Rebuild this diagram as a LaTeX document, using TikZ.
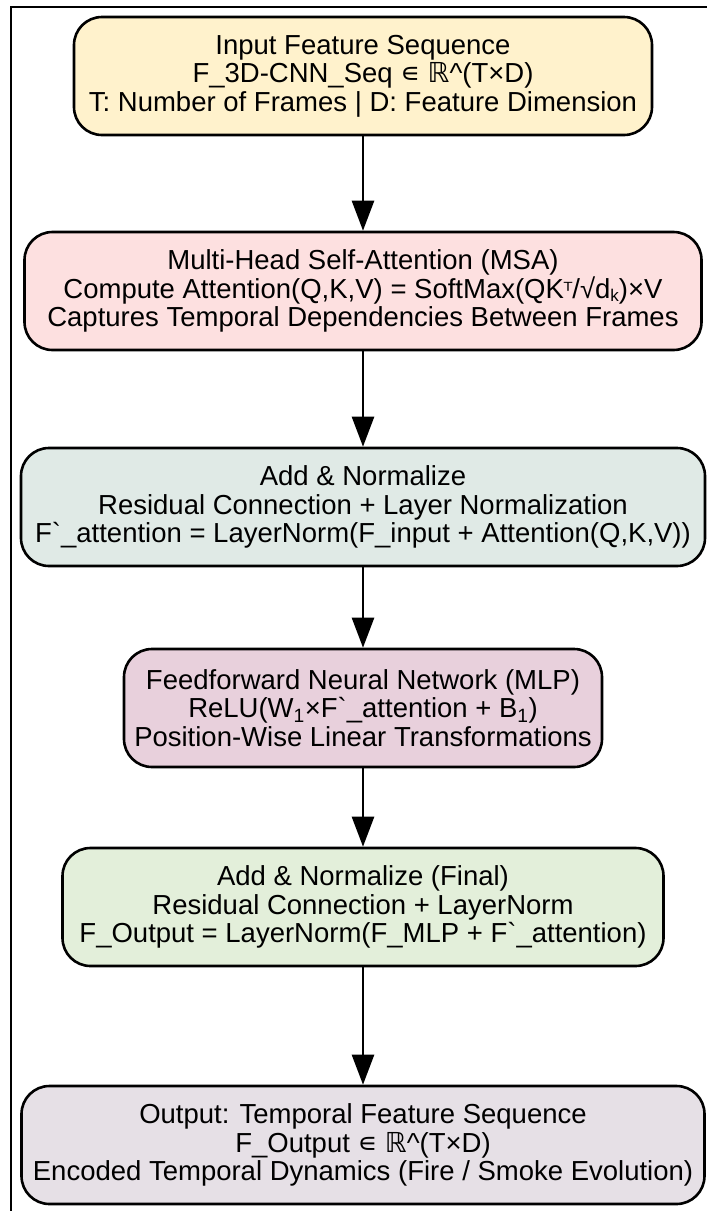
\documentclass[tikz,border=0pt]{standalone}
\usepackage{fontspec}
\setmainfont{Liberation Sans}
\newfontfamily\sym{DejaVu Sans}
\newfontfamily\lib{Liberation Sans}
\usetikzlibrary{arrows.meta}
\definecolor{c1}{HTML}{FFF2CC}
\definecolor{c2}{HTML}{FDE0E0}
\definecolor{c3}{HTML}{E0EAE6}
\definecolor{c4}{HTML}{E8D0DC}
\definecolor{c5}{HTML}{E3EFDA}
\definecolor{c6}{HTML}{E6E0E6}
\newcommand{\grv}{{\lib`}}
\newcommand{\elem}{{\sym ∊}}
\newcommand{\supT}{{\sym\fontsize{22}{22}\selectfont ᵀ}}
\newcommand{\subk}{\raisebox{-3pt}{\fontsize{17}{17}\selectfont$\mathrm{k}$}}
\tikzset{
  box/.style={draw=black, line width=2.6pt, rounded corners=28pt, align=center,
    minimum height=118pt, inner sep=0pt,
    font=\fontsize{27.5}{28.5}\selectfont},
  conn/.style={line width=2.6pt, -{Triangle[width=22pt,length=30pt]}}
}
\begin{document}
\begin{tikzpicture}[x=1pt,y=-1pt]
\useasboundingbox (0,0) rectangle (707,1211);
\begin{scope}
\clip (0,0) rectangle (707,1211);
\draw[line width=2pt] (11,7) rectangle (740,1240);
\end{scope}
\node[box, fill=c1, minimum width=578pt] (b1) at (363,76)
 {Input Feature Sequence\\F\_3D-CNN\_Seq \elem{} {\sym ℝ}\^{}(T×D)\\T: Number of Frames | D: Feature Dimension};
\node[box, fill=c2, minimum width=677pt] (b2) at (363,291)
 {Multi-Head Self-Attention (MSA)\\Compute Attention(Q,K,V) = SoftMax(QK\supT/√d\subk)×V\\Captures Temporal Dependencies Between Frames};
\node[box, fill=c3, minimum width=684pt] (b3) at (363,507)
 {Add \& Normalize\\Residual Connection + Layer Normalization\\F\grv\_attention = LayerNorm(F\_input + Attention(Q,K,V))};
\node[box, fill=c4, minimum width=478pt] (b4) at (363,708)
 {Feedforward Neural Network (MLP)\\ReLU(W\textsubscript{1}×F\grv\_attention + B\textsubscript{1})\\Position-Wise Linear Transformations};
\node[box, fill=c5, minimum width=601pt] (b5) at (363,907)
 {Add \& Normalize (Final)\\Residual Connection + LayerNorm\\F\_Output = LayerNorm(F\_MLP + F\grv\_attention)};
\node[box, fill=c6, minimum width=683pt] (b6) at (363,1145)
 {Output: Temporal Feature Sequence\\F\_Output \elem{} {\sym ℝ}\^{}(T×D)\\Encoded Temporal Dynamics (Fire / Smoke Evolution)};
\draw[conn] (b1) -- (b2);
\draw[conn] (b2) -- (b3);
\draw[conn] (b3) -- (b4);
\draw[conn] (b4) -- (b5);
\draw[conn] (b5) -- (b6);
\end{tikzpicture}
\end{document}
